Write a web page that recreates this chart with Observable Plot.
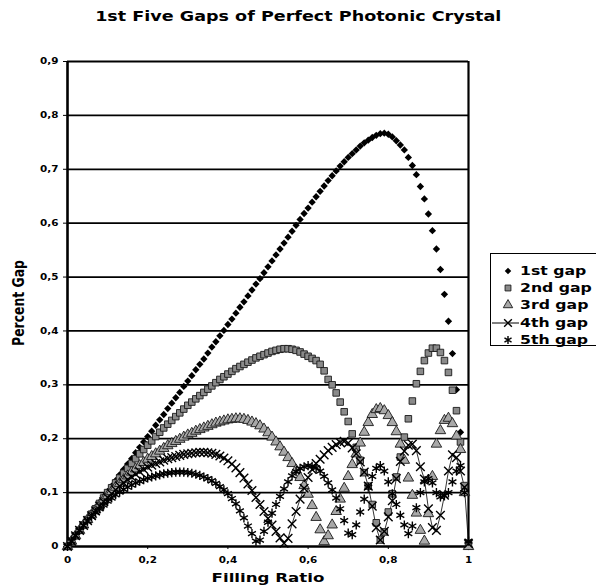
<!DOCTYPE html>
<html><head><meta charset="utf-8">
<script src="https://cdn.jsdelivr.net/npm/d3@7"></script>
<script src="https://cdn.jsdelivr.net/npm/@observablehq/plot@0.6"></script>
<style>
html,body{margin:0;padding:0;background:#fff;overflow:hidden;}
#wrap{position:relative;width:596px;height:585px;overflow:hidden;font-family:"DejaVu Sans",sans-serif;font-weight:bold;color:#000;}
#chart{position:absolute;left:0;top:0;}
.t{position:absolute;white-space:nowrap;}
#title{left:0;width:596px;top:8px;text-align:center;font-size:13.5px;}
#title span{display:inline-block;transform:scaleX(1.3);}
#xlab{left:268px;top:570px;font-size:12.8px;transform:translateX(-50%) scaleX(1.3);}
#ylab{left:18px;top:303px;font-size:12.4px;transform:translate(-50%,-50%) rotate(-90deg) scaleY(1.25);}
#legend{position:absolute;left:490px;top:253px;width:130px;height:91px;border:1px solid #000;background:#fff;}
.row{position:absolute;left:0;height:16px;}
.row svg{position:absolute;left:0;top:0;}
.row span{position:absolute;left:29px;top:0px;font-size:11.8px;line-height:16px;transform:scaleX(1.33);transform-origin:left center;}
</style></head>
<body><div id="wrap">
<div id="chart"></div>
<div class="t" id="title"><span>1st Five Gaps of Perfect Photonic Crystal</span></div>
<div class="t" id="xlab">Filling Ratio</div>
<div class="t" id="ylab">Percent Gap</div>
<div id="legend"></div>
</div>
<script>
// Filling ratio sampling grid (0 to 1 in steps of 0.01)
const fillingRatio = d3.range(0, 101).map(i => i / 100);

const gap1 = [
0, .01, .02, .031, .041, .051, .062, .072, .082, .092,
.102, .112, .122, .133, .143, .153, .163, .174, .184, .194,
.204, .214, .225, .235, .245, .256, .266, .276, .286, .297,
.307, .317, .328, .338, .348, .359, .37, .38, .391, .401,
.412, .422, .433, .444, .454, .465, .476, .487, .497, .508,
.519, .53, .541, .552, .563, .574, .585, .596, .607, .618,
.628, .639, .649, .659, .669, .679, .688, .697, .706, .714,
.722, .729, .736, .743, .749, .754, .759, .763, .766, .767,
.765, .76, .753, .745, .736, .722, .707, .69, .668, .645,
.617, .586, .552, .514, .468, .418, .358, .291, .212, .11,
0];

const gap2 = [
0, .01, .02, .03, .04, .05, .06, .07, .08, .09,
.1, .109, .118, .127, .136, .145, .154, .163, .172, .18,
.188, .196, .204, .212, .22, .227, .234, .241, .248, .255,
.262, .268, .274, .28, .286, .292, .298, .304, .31, .315,
.32, .325, .33, .334, .338, .342, .346, .35, .353, .356,
.359, .362, .364, .366, .367, .367, .366, .364, .361, .357,
.353, .349, .345, .338, .326, .31, .3, .285, .268, .25,
.232, .209, .184, .16, .137, .112, .078, .044, .012, .027,
.064, .098, .129, .166, .203, .237, .27, .302, .325, .345,
.359, .368, .368, .36, .345, .323, .29, .252, .194, .113,
.005];

const gap3 = [
0, .01, .02, .03, .04, .05, .059, .068, .077, .086,
.094, .102, .11, .117, .124, .131, .138, .144, .15, .156,
.162, .167, .172, .177, .182, .187, .191, .195, .199, .203,
.207, .21, .214, .217, .22, .223, .226, .229, .231, .233,
.235, .236, .237, .237, .236, .234, .231, .228, .224, .218,
.211, .203, .194, .185, .175, .165, .154, .142, .128, .113,
.097, .076, .054, .031, .009, .02, .04, .065, .088, .108,
.13, .152, .172, .192, .212, .23, .245, .254, .256, .252,
.243, .23, .213, .19, .16, .127, .095, .062, .03, .01,
.061, .13, .19, .215, .234, .238, .228, .205, .18, .1,
0];

const gap4 = [
0, .01, .02, .03, .039, .048, .057, .066, .075, .083,
.091, .098, .105, .112, .118, .124, .129, .134, .139, .143,
.147, .151, .154, .157, .16, .163, .165, .167, .169, .171,
.172, .173, .174, .175, .175, .174, .173, .171, .168, .164,
.159, .153, .146, .137, .127, .116, .104, .091, .078, .065,
.052, .04, .028, .016, .006, .015, .042, .065, .088, .108,
.128, .143, .154, .162, .17, .178, .184, .189, .193, .195,
.192, .183, .172, .157, .138, .112, .075, .035, .012, .028,
.055, .085, .126, .158, .177, .188, .19, .178, .148, .125,
.07, .035, .03, .058, .095, .14, .17, .165, .14, .11,
.005];

const gap5 = [
0, .01, .02, .03, .039, .047, .055, .063, .07, .077,
.084, .09, .096, .101, .106, .11, .114, .118, .121, .124,
.127, .129, .131, .133, .135, .136, .137, .138, .138, .138,
.137, .136, .134, .132, .129, .126, .122, .117, .111, .105,
.098, .089, .079, .066, .053, .038, .024, .01, .012, .028,
.045, .062, .078, .093, .107, .12, .131, .139, .145, .148,
.15, .149, .146, .14, .13, .118, .105, .09, .07, .048,
.025, .022, .04, .064, .088, .11, .13, .145, .15, .14,
.12, .098, .078, .058, .04, .024, .038, .072, .1, .12,
.126, .118, .1, .092, .094, .1, .12, .14, .15, .1,
.01];

const seriesNames = ["1st gap", "2nd gap", "3rd gap", "4th gap", "5th gap"];
const xTicks = [0, 0.2, 0.4, 0.6, 0.8, 1];
const yTicks = [0, 0.1, 0.2, 0.3, 0.4, 0.5, 0.6, 0.7, 0.8, 0.9];
const gridLines = [0.1, 0.2, 0.3, 0.4, 0.5, 0.6, 0.7, 0.8, 0.9];

const toRows = ys => ys.map((y, i) => ({x: fillingRatio[i], y}));
const fmt = d => String(d).replace(".", ",");

const styles = [
  {symbol: "diamond2", r: 3.3, fill: "#000", stroke: "none"},
  {symbol: "square", r: 3.7, fill: "#8a8a8a", stroke: "#1a1a1a", strokeWidth: 0.9},
  {symbol: "triangle", r: 3.9, fill: "#a8a8a8", stroke: "#1a1a1a", strokeWidth: 0.9},
  {symbol: "times", r: 4, fill: "none", stroke: "#000", strokeWidth: 1.4},
  {symbol: "asterisk", r: 4.3, fill: "none", stroke: "#000", strokeWidth: 1.4}
];
const allGaps = [gap1, gap2, gap3, gap4, gap5];

const chart = Plot.plot({
  width: 596, height: 585,
  marginLeft: 67, marginRight: 128, marginTop: 61, marginBottom: 39,
  style: {fontFamily: "DejaVu Sans", fontWeight: "bold", fontSize: "8px", background: "#fff", color: "#000"},
  x: {domain: [0, 1], ticks: xTicks, tickFormat: fmt, tickSize: 3, tickPadding: 8, label: null},
  y: {domain: [0, 0.9], ticks: yTicks, tickFormat: fmt, tickSize: 4, tickPadding: 5, label: null},
  marks: [
    Plot.ruleY(gridLines, {stroke: "#000", strokeWidth: 1.8}),
    Plot.ruleX([0], {stroke: "#000", strokeWidth: 2.6}),
    Plot.ruleX([1], {stroke: "#000", strokeWidth: 2.2}),
    Plot.ruleY([0], {stroke: "#000", strokeWidth: 2.4}),
    Plot.line(toRows(gap4), {x: "x", y: "y", stroke: "#000", strokeWidth: 0.8}),
    ...allGaps.map((g, i) => Plot.dot(toRows(g), {x: "x", y: "y", ...styles[i]}))
  ]
});
document.getElementById("chart").appendChild(chart);

d3.select(chart).selectAll('g[aria-label$="tick label"] text').each(function() {
  const t = this.getAttribute("transform");
  if (t) this.setAttribute("transform", t + " scale(1.3,1)");
});

// Legend
const symMap = {diamond2: d3.symbolDiamond2, square: d3.symbolSquare, triangle: d3.symbolTriangle, times: d3.symbolTimes, asterisk: d3.symbolAsterisk};
const legend = d3.select("#legend");
seriesNames.forEach((name, i) => {
  const s = styles[i];
  const row = legend.append("div").attr("class", "row").style("top", (9 + i * 17.2) + "px").style("width", "130px");
  const svg = row.append("svg").attr("width", 30).attr("height", 16);
  if (i === 3) svg.append("line").attr("x1", 1).attr("x2", 28).attr("y1", 8).attr("y2", 8).attr("stroke", "#000").attr("stroke-width", 1);
  svg.append("path")
    .attr("transform", "translate(17,8)")
    .attr("d", d3.symbol(symMap[s.symbol], Math.PI * s.r * s.r * 0.8)())
    .attr("fill", s.fill).attr("stroke", s.stroke).attr("stroke-width", s.strokeWidth || 0);
  row.append("span").text(name);
});
</script>
</body></html>
